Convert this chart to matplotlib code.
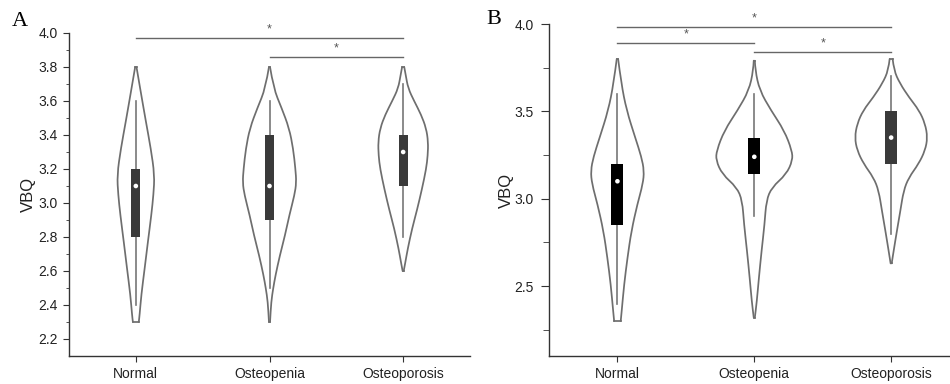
import matplotlib
matplotlib.use("Agg")
import matplotlib.pyplot as plt
from matplotlib.path import Path
from matplotlib.patches import PathPatch

plt.rcParams['font.family'] = ['Liberation Sans', 'DejaVu Sans']

groups = ['Normal', 'Osteopenia', 'Osteoporosis']

# ---- Panel A: violin outlines (value, half width in category units) ----
a_norm_v = [3.8, 3.675, 3.48, 3.32, 3.165, 3.05, 2.93, 2.77, 2.615, 2.46, 2.34, 2.3]
a_norm_w = [0.005, 0.032, 0.075, 0.112, 0.140, 0.132, 0.116, 0.090, 0.066, 0.041, 0.028, 0.022]
a_peni_v = [3.8, 3.675, 3.56, 3.44, 3.32, 3.2, 3.12, 3.047, 2.93, 2.81, 2.69, 2.575, 2.5, 2.42, 2.3]
a_peni_w = [0.004, 0.030, 0.090, 0.147, 0.177, 0.194, 0.201, 0.187, 0.149, 0.116, 0.077, 0.045, 0.028, 0.013, 0.004]
a_poro_v = [3.8, 3.753, 3.675, 3.6, 3.52, 3.44, 3.36, 3.28, 3.2, 3.08, 2.96, 2.85, 2.73, 2.65, 2.6]
a_poro_w = [0.008, 0.019, 0.037, 0.082, 0.134, 0.172, 0.187, 0.184, 0.172, 0.140, 0.104, 0.067, 0.034, 0.016, 0.004]

# box stats: whisker low, q1, median, q3, whisker high
a_lo = [2.4, 2.5, 2.8]
a_q1 = [2.8, 2.9, 3.1]
a_med = [3.1, 3.1, 3.3]
a_q3 = [3.2, 3.4, 3.4]
a_hi = [3.6, 3.6, 3.7]

# ---- Panel B ----
b_norm_v = [3.8, 3.66, 3.506, 3.35, 3.24, 3.16, 3.085, 2.97, 2.816, 2.66, 2.51, 2.356, 2.3]
b_norm_w = [0.005, 0.028, 0.067, 0.130, 0.175, 0.195, 0.186, 0.146, 0.102, 0.073, 0.049, 0.031, 0.024]
b_peni_v = [3.79, 3.735, 3.62, 3.506, 3.39, 3.276, 3.22, 3.14, 3.065, 2.99, 2.855, 2.70, 2.55, 2.41, 2.32]
b_peni_w = [0.004, 0.007, 0.039, 0.122, 0.219, 0.275, 0.280, 0.234, 0.128, 0.088, 0.075, 0.053, 0.034, 0.018, 0.004]
b_poro_v = [3.8, 3.735, 3.66, 3.58, 3.506, 3.43, 3.35, 3.276, 3.2, 3.12, 3.046, 2.93, 2.816, 2.70, 2.63]
b_poro_w = [0.011, 0.020, 0.064, 0.131, 0.204, 0.248, 0.266, 0.248, 0.201, 0.128, 0.091, 0.067, 0.042, 0.018, 0.004]

b_lo = [2.4, 2.9, 2.8]
b_q1 = [2.85, 3.14, 3.2]
b_med = [3.1, 3.24, 3.35]
b_q3 = [3.2, 3.35, 3.5]
b_hi = [3.6, 3.6, 3.7]

# significance brackets: (from group, to group, height)
a_sig = [(1, 3, 3.97), (2, 3, 3.86)]
b_sig = [(1, 3, 3.98), (1, 2, 3.89), (2, 3, 3.84)]

OUTLINE = '#6e6e6e'


def smooth_side(xs, ys):
    # quadratic bezier through midpoints, so the read points act as control points
    verts = [(xs[0], ys[0])]
    codes = [Path.MOVETO]
    for i in range(1, len(xs) - 1):
        mx = (xs[i] + xs[i + 1]) / 2
        my = (ys[i] + ys[i + 1]) / 2
        verts += [(xs[i], ys[i]), (mx, my)]
        codes += [Path.CURVE3, Path.CURVE3]
    verts.append((xs[-1], ys[-1]))
    codes.append(Path.LINETO)
    return Path(verts, codes)


def draw_violin(ax, x, vals, widths):
    left = [x - w for w in widths]
    right = [x + w for w in widths]
    for side in (left, right):
        ax.add_patch(PathPatch(smooth_side(side, vals), facecolor='none',
                               edgecolor=OUTLINE, lw=1.25, capstyle='round'))
    ax.plot([left[0], right[0]], [vals[0], vals[0]], color=OUTLINE, lw=1.25)
    ax.plot([left[-1], right[-1]], [vals[-1], vals[-1]], color=OUTLINE, lw=1.25)


def draw_panel(ax, violins, lo, q1, med, q3, hi, box_w, box_colors, sig, yticks, minor):
    for i, (vals, widths) in enumerate(violins):
        x = i + 1
        draw_violin(ax, x, vals, widths)
        ax.plot([x, x], [lo[i], hi[i]], color='#777777', lw=1.2, zorder=2)
        ax.bar(x, q3[i] - q1[i], bottom=q1[i], width=box_w, color=box_colors[i],
               edgecolor='none', zorder=3)
        ax.scatter([x], [med[i]], s=11, color='white', zorder=4, edgecolors='none')
    for g1, g2, h in sig:
        ax.plot([g1, g2], [h, h], color='#666666', lw=1.0, clip_on=False)
        ax.text((g1 + g2) / 2, h + 0.015, '*', ha='center', va='bottom',
                fontsize=9, color='#555555', clip_on=False)
    ax.set_ylim(2.1, 4.0)
    ax.set_yticks(yticks)
    ax.set_yticks(minor, minor=True)
    ax.set_xticks([1, 2, 3])
    ax.set_xticklabels(groups)
    for s in ['top', 'right']:
        ax.spines[s].set_visible(False)
    for s in ['left', 'bottom']:
        ax.spines[s].set_color('#333333')
        ax.spines[s].set_linewidth(1.0)
    ax.tick_params(axis='both', which='major', direction='out', length=4,
                   labelsize=10, colors='#333333', labelcolor='#222222', pad=4)
    ax.tick_params(axis='y', which='minor', direction='out', length=2.5, colors='#333333')
    ax.set_facecolor('none')


fig = plt.figure(figsize=(9.5, 3.84), dpi=100)

ax_a = fig.add_axes([69 / 950, 28 / 384, (470 - 69) / 950, (356 - 33) / 384])
draw_panel(ax_a,
           [(a_norm_v, a_norm_w), (a_peni_v, a_peni_w), (a_poro_v, a_poro_w)],
           a_lo, a_q1, a_med, a_q3, a_hi, 0.065,
           ['#3a3a3a', '#3a3a3a', '#3a3a3a'], a_sig,
           [2.2, 2.4, 2.6, 2.8, 3.0, 3.2, 3.4, 3.6, 3.8, 4.0],
           [2.3, 2.5, 2.7, 2.9, 3.1, 3.3, 3.5, 3.7, 3.9])
ax_a.set_xlim(0.5, 3.5)
ax_a.set_yticklabels(['2.2', '2.4', '2.6', '2.8', '3.0', '3.2', '3.4', '3.6', '3.8', '4.0'])
ax_a.set_ylabel('VBQ', fontsize=12, color='#222222', labelpad=2)

ax_b = fig.add_axes([549 / 950, 28 / 384, (950 - 549) / 950, (356 - 24) / 384])
draw_panel(ax_b,
           [(b_norm_v, b_norm_w), (b_peni_v, b_peni_w), (b_poro_v, b_poro_w)],
           b_lo, b_q1, b_med, b_q3, b_hi, 0.088,
           ['#000000', '#000000', '#3a3a3a'], b_sig,
           [2.5, 3.0, 3.5, 4.0], [2.25, 2.75, 3.25, 3.75])
ax_b.set_xlim(0.5, 3.43)
ax_b.set_yticklabels(['2.5', '3.0', '3.5', '4.0'])
ax_b.tick_params(axis='y', which='major', length=6, pad=5)
ax_b.tick_params(axis='y', which='minor', length=4)
ax_b.set_ylabel('VBQ', fontsize=12, color='#222222', labelpad=0)

fig.text(20 / 950, 1 - 21 / 384, 'A', family='Liberation Serif', fontsize=16,
         ha='center', va='center')
fig.text(494 / 950, 1 - 20 / 384, 'B', family='Liberation Serif', fontsize=16,
         ha='center', va='center')

fig.savefig('out.png', dpi=100)
